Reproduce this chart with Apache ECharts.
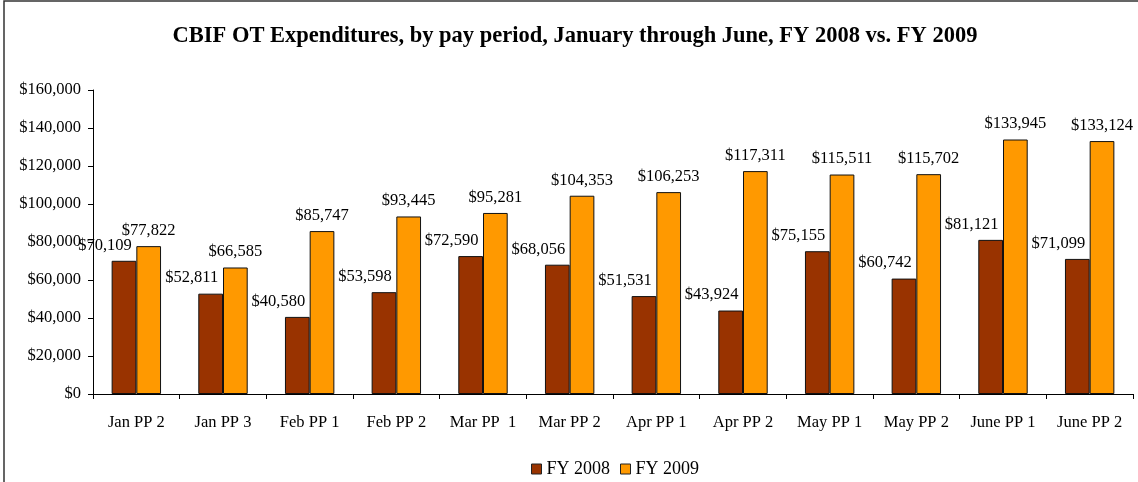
<!DOCTYPE html>
<html>
<head>
<meta charset="utf-8">
<script src="https://cdn.jsdelivr.net/npm/echarts@6/dist/echarts.min.js"></script>
<style>
html,body{margin:0;padding:0;background:#fff;}
#c{width:1138px;height:482px;}
</style>
</head>
<body>
<div id="c"></div>
<script>
var categories = ['Jan PP 2','Jan PP 3','Feb PP 1','Feb PP 2','Mar PP  1','Mar PP 2','Apr PP 1','Apr PP 2','May PP 1','May PP 2','June PP 1','June PP 2'];
var fy2008 = [70109, 52811, 40580, 53598, 72590, 68056, 51531, 43924, 75155, 60742, 81121, 71099];
var fy2009 = [77822, 66585, 85747, 93445, 95281, 104353, 106253, 117311, 115511, 115702, 133945, 133124];
var seriesNames = ['FY 2008', 'FY 2009'];

var FONT = '"Liberation Serif", "Times New Roman", serif';
function money(v){ return '$' + Number(v).toLocaleString('en-US'); }

var chart = echarts.init(document.getElementById('c'));
chart.setOption({
  backgroundColor: '#fff',
  animation: false,
  graphic: [{
    type: 'rect',
    shape: {x: 4, y: 1, width: 1150, height: 500},
    style: {fill: 'none', stroke: '#333', lineWidth: 1.5},
    silent: true
  }],
  title: {
    text: 'CBIF OT Expenditures, by pay period, January through June, FY 2008 vs. FY 2009',
    left: 570, textAlign: 'center', top: 20,
    textStyle: {fontFamily: FONT, fontSize: 22.5, fontWeight: 'bold', color: '#000'}
  },
  legend: {
    data: seriesNames,
    left: 526, top: 455,
    itemWidth: 10, itemHeight: 10, itemGap: 10,
    icon: 'rect',
    itemStyle: {borderColor: '#222', borderWidth: 1},
    textStyle: {fontFamily: FONT, fontSize: 18, color: '#000', padding: [0,0,0,0]}
  },
  grid: {left: 93, right: 5, top: 90, bottom: 88, containLabel: false},
  xAxis: {
    type: 'category',
    data: categories,
    axisLine: {lineStyle: {color: '#000', width: 1}},
    axisTick: {show: true, length: 5, lineStyle: {color: '#000'}},
    axisLabel: {fontFamily: FONT, fontSize: 16.5, color: '#000', margin: 20, interval: 0}
  },
  yAxis: {
    type: 'value',
    min: 0, max: 160000, interval: 20000,
    splitLine: {show: false},
    axisLine: {show: true, lineStyle: {color: '#000', width: 1}},
    axisTick: {show: true, length: 5, lineStyle: {color: '#000'}},
    axisLabel: {fontFamily: FONT, fontSize: 16.5, color: '#000', margin: 12, formatter: money}
  },
  series: [{
    name: seriesNames[0],
    type: 'bar',
    data: fy2008,
    barGap: '0%',
    barCategoryGap: '43%',
    itemStyle: {color: '#993300', borderColor: '#111', borderWidth: 1},
    label: {show: true, position: 'top', distance: 7, offset: [-19, 0],
      fontFamily: FONT, fontSize: 16.5, color: '#000',
      formatter: function(p){ return money(p.value); }}
  }, {
    name: seriesNames[1],
    type: 'bar',
    data: fy2009,
    barGap: '0%',
    barCategoryGap: '43%',
    itemStyle: {color: '#FF9900', borderColor: '#111', borderWidth: 1},
    label: {show: true, position: 'top', distance: 7,
      fontFamily: FONT, fontSize: 16.5, color: '#000',
      formatter: function(p){ return money(p.value); }}
  }]
});
</script>
</body>
</html>
